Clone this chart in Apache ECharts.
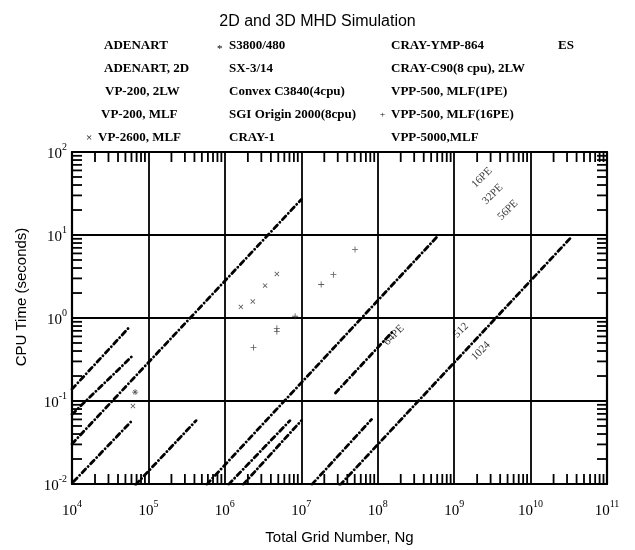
<!DOCTYPE html>
<html>
<head>
<meta charset="utf-8">
<script src="https://cdn.jsdelivr.net/npm/echarts@6/dist/echarts.min.js"></script>
<style>html,body{margin:0;padding:0;background:#fff}#c{width:635px;height:550px}</style>
</head>
<body>
<div id="c"></div>
<script>
// ---- data ----
const titleText = '2D and 3D MHD Simulation';
const xAxisTitle = 'Total Grid Number, Ng';
const yAxisTitle = 'CPU Time (seconds)';
const xDecades = [4, 5, 6, 7, 8, 9, 10, 11];
const yDecades = [-2, -1, 0, 1, 2];
const minorMult = [2, 3, 4, 5, 6, 7, 8, 9];

// straight performance lines (endpoints)
const lineStartN = [1e4, 1e4, 1e4, 1.05e4, 6.8e4, 5.8e5, 1.12e6, 1.74e6, 1.38e7, 3.2e7, 2.8e7];
const lineStartT = [0.139, 0.069, 0.0304, 0.0107, 0.0098, 0.0099, 0.0099, 0.0099, 0.0099, 0.0097, 0.125];
const lineEndN = [5.8e4, 6e4, 1e7, 6.1e4, 4.2e5, 5.9e8, 7.1e6, 1e7, 8.3e7, 3.4e10, 1.6e8];
const lineEndT = [0.80, 0.34, 26.8, 0.058, 0.058, 9.4, 0.058, 0.058, 0.06, 9.4, 0.70];

// scatter marks
const crossN = [6.27e4, 1.62e6, 2.32e6, 3.36e6, 4.79e6];
const crossT = [0.087, 1.36, 1.58, 2.46, 3.39];
const plusN = [2.37e6, 4.79e6, 4.79e6, 8.3e6, 1.82e7, 2.63e7, 5.05e7];
const plusT = [0.44, 0.69, 0.75, 1.05, 2.53, 3.33, 6.7];
const starN = [6.7e4];
const starT = [0.128];

// in-plot annotations
const noteText = ['16PE', '32PE', '56PE', '64PE', '512', '1024'];
const noteN = [2.31e9, 3.2e9, 5.05e9, 1.63e8, 1.23e9, 2.24e9];
const noteT = [49, 31, 20, 0.62, 0.71, 0.40];

// legend text (columns)
const legendCol1 = ['ADENART', 'ADENART, 2D', 'VP-200, 2LW', 'VP-200, MLF', 'VP-2600, MLF'];
const legendCol2 = ['S3800/480', 'SX-3/14', 'Convex C3840(4cpu)', 'SGI Origin 2000(8cpu)', 'CRAY-1'];
const legendCol3 = ['CRAY-YMP-864', 'CRAY-C90(8 cpu), 2LW', 'VPP-500, MLF(1PE)', 'VPP-500, MLF(16PE)', 'VPP-5000,MLF'];
const legendCol4 = ['ES'];

// ---- build ----
const SERIF = '"Liberation Serif", "Times New Roman", serif';
const SANS = '"Liberation Sans", Arial, sans-serif';

const xMinor = [];
xDecades.slice(0, -1).forEach(d => minorMult.forEach(m => xMinor.push([m * Math.pow(10, d), 1])));
const yMinor = [];
yDecades.slice(0, -1).forEach(d => minorMult.forEach(m => yMinor.push([1e5, m * Math.pow(10, d)])));

const PLUS = 'path://M4.3,0H5.7V4.3H10V5.7H5.7V10H4.3V5.7H0V4.3H4.3Z';
const STAR = 'path://M4.4,0H5.6V4.4H10V5.6H5.6V10H4.4V5.6H0V4.4H4.4Z M1.2,2L2,1.2L5,4.2L8,1.2L8.8,2L5.8,5L8.8,8L8,8.8L5,5.8L2,8.8L1.2,8L4.2,5Z';

function expLabel(v) {
  const e = Math.round(Math.log10(v));
  return '{b|10}{s|' + (e < 0 ? '-' + (-e) : e) + '}';
}
const richLab = {
  b: { fontSize: 15, fontFamily: SERIF, color: '#000', lineHeight: 20, verticalAlign: 'bottom' },
  s: { fontSize: 10, fontFamily: SERIF, color: '#000', lineHeight: 12, verticalAlign: 'top' }
};

const series = [];
for (let i = 0; i < lineStartN.length; i++) {
  series.push({
    type: 'line', xAxisIndex: 0, yAxisIndex: 0, showSymbol: false, silent: true,
    data: [[lineStartN[i], lineStartT[i]], [lineEndN[i], lineEndT[i]]],
    lineStyle: { color: '#000', width: 2.8, type: [5, 3.6, 0.1, 3.6], cap: 'round' },
    z: 3
  });
}
series.push({ type: 'scatter', symbol: PLUS, symbolRotate: 45, symbolSize: 6,
  itemStyle: { color: '#333' }, data: crossN.map((n, i) => [n, crossT[i]]), z: 4 });
series.push({ type: 'scatter', symbol: PLUS, symbolSize: 6,
  itemStyle: { color: '#333' }, data: plusN.map((n, i) => [n, plusT[i]]), z: 4 });
series.push({ type: 'scatter', symbol: STAR, symbolSize: 6,
  itemStyle: { color: '#333' }, data: starN.map((n, i) => [n, starT[i]]), z: 4 });
series.push({ type: 'scatter', symbolSize: 1, itemStyle: { color: 'rgba(0,0,0,0)' },
  data: noteN.map((n, i) => ({ value: [n, noteT[i]], name: noteText[i] })),
  label: { show: true, position: 'inside', rotate: 45, formatter: p => p.name,
    fontFamily: SERIF, fontSize: 11, color: '#000' }, z: 5 });

// minor ticks drawn through the axes' scales
series.push({
  type: 'custom', clip: false, silent: true, z: 6, data: xMinor,
  renderItem: (params, api) => {
    const cs = params.coordSys;
    const x = api.coord([api.value(0), 1])[0];
    const st = { stroke: '#000', lineWidth: 1.8 };
    return { type: 'group', children: [
      { type: 'line', shape: { x1: x, y1: cs.y + cs.height, x2: x, y2: cs.y + cs.height - 10 }, style: st },
      { type: 'line', shape: { x1: x, y1: cs.y, x2: x, y2: cs.y + 10 }, style: st }
    ]};
  }
});
series.push({
  type: 'custom', clip: false, silent: true, z: 6, data: yMinor,
  renderItem: (params, api) => {
    const cs = params.coordSys;
    const y = api.coord([1e5, api.value(1)])[1];
    const st = { stroke: '#000', lineWidth: 1.8 };
    return { type: 'group', children: [
      { type: 'line', shape: { x1: cs.x, y1: y, x2: cs.x + 10, y2: y }, style: st },
      { type: 'line', shape: { x1: cs.x + cs.width, y1: y, x2: cs.x + cs.width - 10, y2: y }, style: st }
    ]};
  }
});

// legend texts
const graphics = [];
const rowY = [46, 69, 92, 115, 138];
const legFont = { fontSize: 13, fontWeight: 'bold', fontFamily: SERIF, fill: '#000', verticalAlign: 'middle', align: 'left' };
function addText(txt, x, y, extra) {
  graphics.push({ type: 'text', x: x, y: y, silent: true, style: Object.assign({}, legFont, { text: txt }, extra || {}) });
}
const col1X = [104, 104, 105, 101, 98];
legendCol1.forEach((t, i) => addText(t, col1X[i], rowY[i]));
legendCol2.forEach((t, i) => addText(t, 229, rowY[i]));
legendCol3.forEach((t, i) => addText(t, 391, rowY[i]));
legendCol4.forEach((t, i) => addText(t, 558, rowY[i]));
addText('*', 217, rowY[0] + 3, { fontSize: 11, fontWeight: 'normal' });
addText('+', 380, rowY[3], { fontSize: 9, fontWeight: 'normal' });
addText('×', 86, rowY[4], { fontSize: 11, fontWeight: 'normal' });
graphics.push({ type: 'text', x: 22, y: 297, rotation: Math.PI / 2, silent: true,
  style: { text: yAxisTitle, fontSize: 15, fontFamily: SANS, fill: '#000', align: 'center', verticalAlign: 'middle' } });

const axisCommon = {
  type: 'log', logBase: 10, interval: 1,
  axisLine: { show: true, lineStyle: { color: '#000', width: 2.2 } },
  axisTick: { show: false },
  minorTick: { show: false },
  splitLine: { show: false }
};

const option = {
  backgroundColor: '#fff',
  animation: false,
  title: { text: titleText, left: 'center', top: 9,
    textStyle: { fontSize: 16, fontWeight: 'normal', fontFamily: SANS, color: '#000' } },
  grid: { left: 72, right: 28, top: 152, bottom: 61 },
  xAxis: [
    Object.assign({}, axisCommon, { position: 'bottom', min: 1e4, max: 1e11,
      name: xAxisTitle, nameLocation: 'middle', nameGap: 46,
      nameTextStyle: { fontSize: 15, fontFamily: SANS, color: '#000' },
      splitLine: { show: true, lineStyle: { color: '#000', width: 1.8 } },
      axisLabel: { show: true, margin: 15, formatter: expLabel, rich: richLab } }),
    Object.assign({}, axisCommon, { position: 'top', min: 1e4, max: 1e11, axisLabel: { show: false } })
  ],
  yAxis: [
    Object.assign({}, axisCommon, { position: 'left', min: 0.01, max: 100,
      splitLine: { show: true, lineStyle: { color: '#000', width: 1.8 } },
      axisLabel: { show: true, margin: 5, formatter: expLabel, rich: richLab } }),
    Object.assign({}, axisCommon, { position: 'right', min: 0.01, max: 100, axisLabel: { show: false } })
  ],
  graphic: graphics,
  series: series
};

const chart = echarts.init(document.getElementById('c'), null, { renderer: 'canvas' });
chart.setOption(option);
</script>
</body>
</html>
